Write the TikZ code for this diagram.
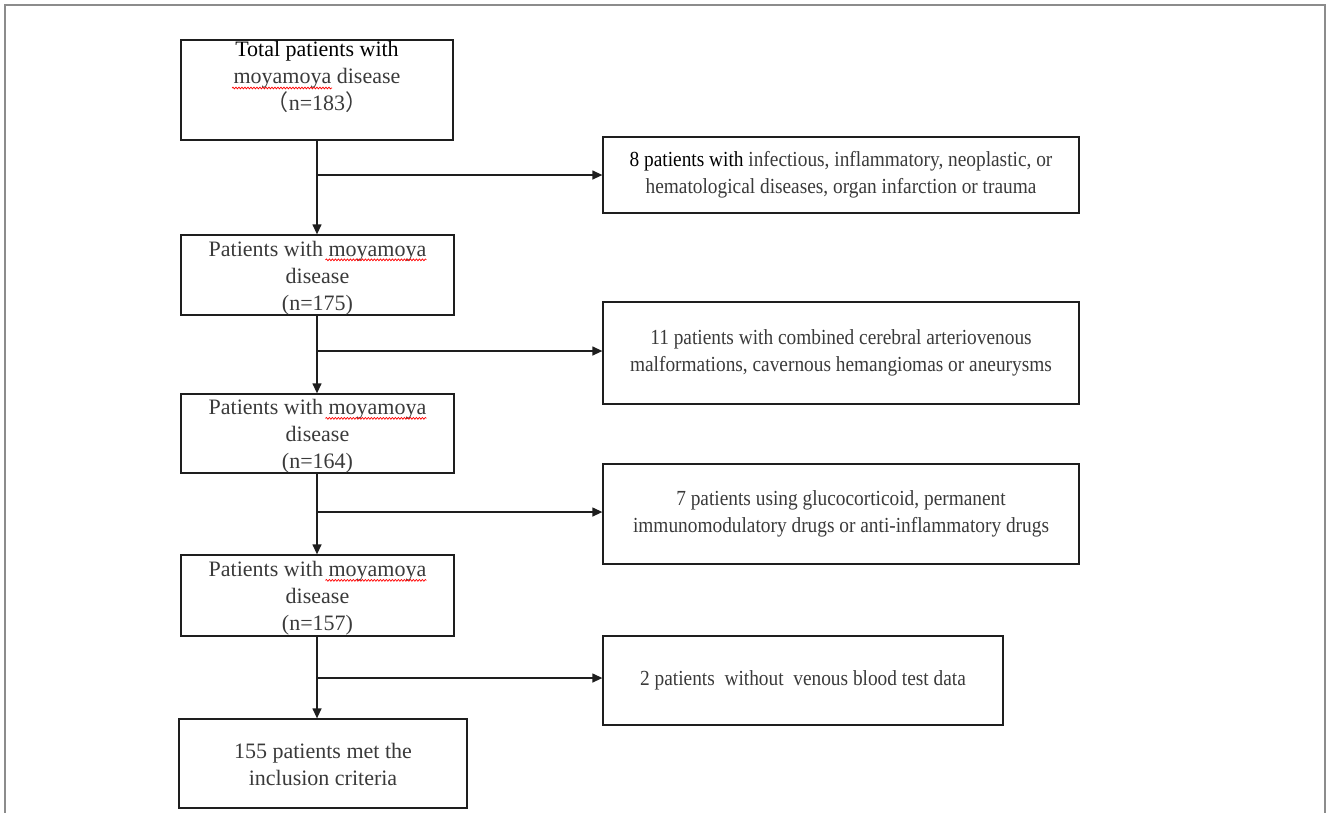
\documentclass[tikz,border=0pt]{standalone}
\usepackage{fontspec}
\setmainfont{Liberation Serif}
\newfontfamily\narrowserif[FakeStretch=0.9]{Liberation Serif}
\newfontfamily\cjk{Noto Sans CJK SC}
\usetikzlibrary{arrows.meta,calc,decorations.pathmorphing}
\definecolor{txtgray}{HTML}{3A3A3A}
\definecolor{linec}{HTML}{1E1E1E}
\definecolor{framec}{HTML}{8C8C8C}
\tikzset{
  box/.style={draw=linec, line width=1.3pt, rectangle, inner sep=0pt},
  txt/.style={align=center, text=txtgray, font=\fontsize{22}{27}\selectfont, inner sep=0pt},
  rtxt/.style={align=center, text=txtgray, font=\narrowserif\fontsize{21.5}{27}\selectfont, inner sep=0pt},
  arr/.style={draw=linec, line width=1.3pt, -{Triangle[length=10pt,width=9pt]}},
  frame/.style={draw=framec, line width=2pt},
  squig/.style={draw=red, line width=0.7pt, decorate, decoration={snake, amplitude=0.9pt, segment length=3pt}}
}
\begin{document}
\begin{tikzpicture}[x=1pt,y=-1pt]
\useasboundingbox (0,0) rectangle (1328,812);
\draw[frame] (5,815) -- (5,5) -- (1325,5) -- (1325,815);
% left column
\node[box, minimum width=272pt, minimum height=100pt] (b1) at (317,90) {};
\node[txt, anchor=north] (b1t) at (317,41) {\textcolor{black}{Total patients with}\\moyamoya disease\\{\cjk （}n=183{\cjk ）}};
\node[box, minimum width=273pt, minimum height=80pt] (b2) at (317.5,275) {};
\node[txt] (b2t) at ($(b2.center)+(0,3)$) {Patients with moyamoya\\disease\\(n=175)};
\node[box, minimum width=273pt, minimum height=79pt] (b3) at (317.5,433.5) {};
\node[txt] (b3t) at ($(b3.center)+(0,3)$) {Patients with moyamoya\\disease\\(n=164)};
\node[box, minimum width=273pt, minimum height=81pt] (b4) at (317.5,595.5) {};
\node[txt] (b4t) at ($(b4.center)+(0,3)$) {Patients with moyamoya\\disease\\(n=157)};
\node[box, minimum width=288pt, minimum height=89pt] (b5) at (323,763.5) {};
\node[txt] (b5t) at ($(b5.center)+(0,1)$) {155 patients met the\\inclusion criteria};
% spell-check squiggles
\draw[squig] ($(b1t.north)+(-85,47)$) -- ($(b1t.north)+(15,47)$);
\draw[squig] ($(b2t.north east)+(-101,19)$) -- ($(b2t.north east)+(0,19)$);
\draw[squig] ($(b3t.north east)+(-101,19)$) -- ($(b3t.north east)+(0,19)$);
\draw[squig] ($(b4t.north east)+(-101,19)$) -- ($(b4t.north east)+(0,19)$);
% right column
\node[box, minimum width=476pt, minimum height=76pt] (r1) at (841,175) {};
\node[rtxt] (r1t) at (r1.center) {\textcolor{black}{8 patients with} infectious, inflammatory, neoplastic, or\\hematological diseases, organ infarction or trauma};
\node[box, minimum width=476pt, minimum height=102pt] (r2) at (841,353) {};
\node[rtxt] (r2t) at (r2.center) {11 patients with combined cerebral arteriovenous\\malformations, cavernous hemangiomas or aneurysms};
\node[box, minimum width=476pt, minimum height=100pt] (r3) at (841,514) {};
\node[rtxt] (r3t) at (r3.center) {7 patients using glucocorticoid, permanent\\immunomodulatory drugs or anti-inflammatory drugs};
\node[box, minimum width=400pt, minimum height=89pt] (r4) at (803,680.5) {};
\node[rtxt] (r4t) at (r4.center) {2 patients\ \ without\ \ venous blood test data};
% connectors
\coordinate (c1) at (317,175);
\coordinate (c2) at (317,351);
\coordinate (c3) at (317,512);
\coordinate (c4) at (317,678);
\draw[arr] (c1 |- b1.south) -- (c1 |- b2.north);
\draw[arr] (c2 |- b2.south) -- (c2 |- b3.north);
\draw[arr] (c3 |- b3.south) -- (c3 |- b4.north);
\draw[arr] (c4 |- b4.south) -- (c4 |- b5.north);
\draw[arr] (c1) -- (c1 -| r1.west);
\draw[arr] (c2) -- (c2 -| r2.west);
\draw[arr] (c3) -- (c3 -| r3.west);
\draw[arr] (c4) -- (c4 -| r4.west);
\end{tikzpicture}
\end{document}
